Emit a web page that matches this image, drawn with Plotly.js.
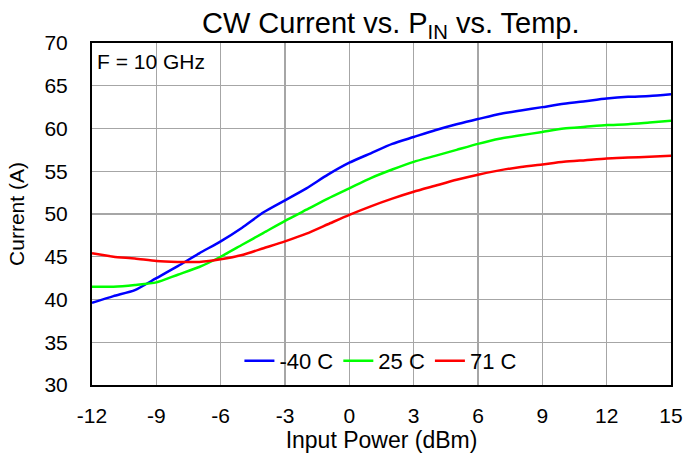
<!DOCTYPE html>
<html>
<head>
<meta charset="utf-8">
<script src="https://cdn.plot.ly/plotly-3.0.1.min.js"></script>
<style>html,body{margin:0;padding:0;background:#fff;}#chart{width:684px;height:453px;}</style>
</head>
<body>
<div id="chart"></div>
<script>
const inputPower = [-12,-11,-10,-9,-8,-7,-6,-5,-4,-3,-2,-1,0,1,2,3,4,5,6,7,8,9,10,11,12,13,14,15];
const currentM40 = [39.6,40.4,41.1,42.5,43.9,45.4,46.8,48.4,50.2,51.6,53.0,54.6,56.0,57.1,58.2,59.0,59.8,60.5,61.1,61.7,62.1,62.5,62.9,63.2,63.5,63.7,63.8,64.0];
const current25 = [41.5,41.5,41.7,42.0,42.9,43.8,45.0,46.4,47.8,49.2,50.5,51.8,53.0,54.2,55.2,56.1,56.8,57.5,58.2,58.8,59.2,59.6,60.0,60.2,60.4,60.5,60.7,60.9];
const current71 = [45.4,45.0,44.8,44.5,44.4,44.4,44.7,45.2,46.0,46.8,47.7,48.8,49.9,50.9,51.8,52.6,53.3,54.0,54.6,55.1,55.5,55.8,56.1,56.3,56.5,56.6,56.7,56.8];
const seriesNames = ['-40 C','25 C','71 C'];
const xTicks = [-12,-9,-6,-3,0,3,6,9,12,15];
const yTicks = [30,35,40,45,50,55,60,65,70];

const FONT = 'Liberation Sans, Arial, sans-serif';
const mk = (y, name, color) => ({x: inputPower, y: y, name: name, type: 'scatter', mode: 'lines',
  line: {color: color, width: 2.5, shape: 'spline', smoothing: 0.6}});

const data = [
  mk(currentM40, seriesNames[0], '#0000ff'),
  mk(current25, seriesNames[1], '#00ff00'),
  mk(current71, seriesNames[2], '#ff0000')
];

const layout = {
  width: 684, height: 453,
  margin: {l: 92, r: 13, t: 43, b: 68},
  paper_bgcolor: '#ffffff', plot_bgcolor: '#ffffff',
  font: {family: FONT, color: '#000', size: 21},
  title: {text: 'CW Current vs. P<sub>IN</sub> vs. Temp.', font: {family: FONT, size: 29, color: '#000'},
    x: 0.516, xref: 'paper', xanchor: 'center', y: 1 - 23/453, yref: 'container', yanchor: 'middle'},
  xaxis: {range: [-12, 15], tickvals: xTicks, ticktext: xTicks.map(String), showgrid: true,
    gridcolor: '#a6a6a6', gridwidth: 1.3, zeroline: false, showline: true, linecolor: '#000',
    linewidth: 2, mirror: true, ticks: '', ticklabelstandoff: 11, tickfont: {size: 21},
    title: {text: 'Input Power (dBm)', font: {size: 23}, standoff: 4}},
  yaxis: {range: [30, 70], tickvals: yTicks, ticktext: yTicks.map(String), showgrid: true,
    gridcolor: '#a6a6a6', gridwidth: 1.3, zeroline: false, showline: true, linecolor: '#000',
    linewidth: 2, mirror: true, ticks: '', ticklabelstandoff: 18, tickfont: {size: 21},
    title: {text: 'Current (A)', font: {size: 21}, standoff: 14}},
  showlegend: true,
  legend: {orientation: 'h', x: 0.499, xanchor: 'center', y: 0.07, yanchor: 'middle',
    bgcolor: 'rgba(0,0,0,0)', font: {size: 22}, itemwidth: 30, traceorder: 'normal'},
  shapes: [
    {type: 'rect', xref: 'paper', yref: 'paper', x0: 0.223, x1: 0.770, y0: 0, y1: 0.140,
      fillcolor: '#ffffff', line: {width: 0}, layer: 'between'},
    {type: 'rect', xref: 'paper', yref: 'paper', x0: 0, x1: 0.223, y0: 0.892, y1: 1,
      fillcolor: '#ffffff', line: {width: 0}, layer: 'between'}
  ],
  annotations: [
    {text: 'F = 10 GHz', xref: 'paper', yref: 'paper', x: 0.005, y: 0.946, xanchor: 'left', yanchor: 'middle',
      showarrow: false, font: {size: 21}}
  ]
};

Plotly.newPlot('chart', data, layout, {displayModeBar: false, staticPlot: true});
</script>
</body>
</html>
